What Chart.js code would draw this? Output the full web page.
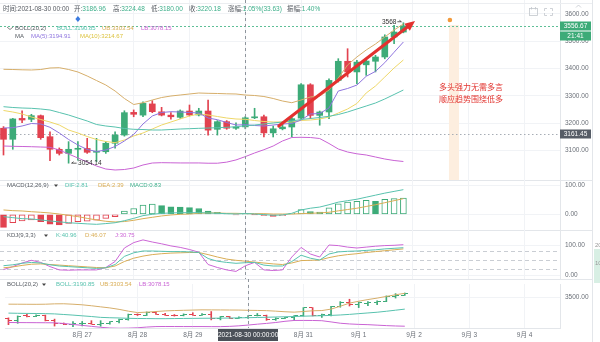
<!DOCTYPE html>
<html>
<head>
<meta charset="utf-8">
<title>BTC 4H</title>
<script src="https://cdn.jsdelivr.net/npm/chart.js@4.4.1/dist/chart.umd.min.js"></script>
<style>
  html, body { margin: 0; padding: 0; background: #fff; }
  #wrap { position: relative; width: 600px; height: 342px; overflow: hidden; }
  canvas { position: absolute; left: 0; }
</style>
</head>
<body>
<div id="wrap">
  <canvas id="mainChart" width="600" height="180" style="top:0"></canvas>
  <canvas id="macdChart" width="600" height="50" style="top:180px"></canvas>
  <canvas id="kdjChart" width="600" height="49" style="top:230px"></canvas>
  <canvas id="bollChart" width="600" height="63" style="top:279px"></canvas>
</div>
<script>
  // 4h candles, index 0 = 8/25 16:00, index 26 = 8/30 00:00
  const dayTicks = [8, 14, 20, 26, 32, 38, 44, 50, 56];
  const dayLabels = ['8月 27', '8月 28', '8月 29', '8月 30', '8月 31', '9月 1', '9月 2', '9月 3', '9月 4'];
  const priceTicks = [3100, 3200, 3300, 3400, 3500, 3600];
  const macdTicks = [0, 100];
  const kdjTicks = [0, 100];
  const kdjLevels = [20, 50, 80];
  const bollTicks = [3500];

  const open = [3182, 3141.5, 3218, 3214.7, 3228, 3151, 3105, 3090, 3105, 3108, 3094, 3096, 3127, 3157, 3240, 3230, 3271, 3242, 3230, 3222, 3245, 3230.5, 3245, 3178, 3206, 3182, 3186.96, 3220.18, 3224, 3165, 3180, 3186.5, 3219, 3341, 3229, 3241.5, 3357, 3427, 3388, 3414, 3427, 3442.7, 3516, 3534];
  const high = [3188, 3218, 3246, 3233, 3230.5, 3169, 3110, 3133, 3133, 3145, 3145, 3133, 3169, 3246, 3249, 3279, 3283, 3258.6, 3239, 3249, 3267, 3255, 3285, 3210, 3210, 3202, 3224.48, 3255, 3230.5, 3190, 3198, 3223, 3345, 3345, 3245, 3363, 3436.5, 3473, 3430.6, 3436, 3449, 3524, 3558.6, 3568];
  const low = [3084, 3105, 3202, 3206, 3141.5, 3063, 3084, 3054.14, 3065, 3090, 3060, 3090, 3109, 3153, 3224, 3224, 3239, 3227, 3215, 3218, 3227, 3227, 3157, 3157, 3178, 3178, 3180, 3217, 3150, 3150, 3176, 3150, 3215, 3217, 3193, 3217, 3351, 3369.5, 3345, 3375.5, 3388, 3436, 3491, 3531];
  const close = [3141.5, 3216, 3212, 3228, 3147.4, 3105, 3090, 3105, 3108.6, 3094, 3097, 3127, 3157.3, 3239, 3233, 3273, 3242.5, 3230, 3224, 3245, 3230.5, 3245, 3175, 3206, 3182, 3186.55, 3220.18, 3223, 3165, 3180, 3186.5, 3217, 3341, 3229, 3241.5, 3357, 3427, 3388, 3424, 3428, 3442.7, 3516, 3534, 3556.67];

  const ub = [3397.6, 3396.9, 3395.8, 3395.1, 3396.9, 3402.4, 3403.5, 3396.9, 3387.8, 3373.1, 3356.6, 3340.2, 3318.2, 3290.8, 3268.8, 3275.4, 3285.3, 3294.4, 3299.9, 3303.6, 3307.3, 3310.9, 3309.8, 3309.1, 3308, 3307.3, 3303.54, 3301.8, 3298.1, 3290.8, 3281.6, 3275.4, 3285.3, 3296.3, 3299.9, 3321.9, 3365.8, 3413.4, 3442.6, 3468.2, 3490.2, 3515.8, 3541.4, 3563.4];
  const mid = [3260.8, 3257.9, 3256, 3254.9, 3252.4, 3248.7, 3239.6, 3230.4, 3219.4, 3208.5, 3195.7, 3190.2, 3186.5, 3181, 3178.1, 3177.3, 3175.5, 3175.5, 3177.3, 3179.2, 3180.3, 3181.7, 3182.8, 3183.9, 3185.4, 3187.6, 3190.85, 3193.8, 3197.5, 3201.2, 3204.8, 3208.5, 3213.9, 3217.6, 3221.3, 3225.7, 3232.2, 3241.4, 3252.4, 3263.3, 3274.3, 3289, 3305.4, 3321.9];
  const lb = [3117, 3115.9, 3115.2, 3114.4, 3113.3, 3112.2, 3102.3, 3087.7, 3073.1, 3058.4, 3043.8, 3032.8, 3029.2, 3031, 3036.5, 3047.5, 3054.8, 3056, 3055.5, 3055, 3055, 3055, 3054, 3054, 3058, 3066, 3078.15, 3091.4, 3103.4, 3117, 3135.3, 3148.1, 3148.8, 3148.1, 3144.4, 3126.1, 3106, 3095, 3088.4, 3084.1, 3076.7, 3069.4, 3063.9, 3060.3];
  const ma5 = [3182.8, 3183.9, 3190.2, 3199.3, 3197.5, 3185.4, 3164.6, 3140.8, 3120.6, 3104.2, 3096.9, 3102.3, 3115.2, 3135.3, 3159.1, 3197.5, 3226.8, 3239.6, 3242.5, 3241.4, 3239.6, 3237.7, 3219.4, 3213.2, 3203, 3193.8, 3194.91, 3192, 3190.2, 3193.8, 3197.5, 3199.3, 3212.1, 3234.1, 3235.9, 3256, 3318.2, 3327.4, 3340, 3372, 3390, 3422, 3460, 3497.5];
  const ma10 = [3246.9, 3241.4, 3234.1, 3223.1, 3214, 3204.8, 3193.8, 3175.5, 3164.6, 3151.7, 3140.8, 3133.5, 3129.1, 3138.9, 3153.6, 3164.6, 3179.2, 3193.8, 3204.8, 3215.8, 3226.8, 3234.1, 3230.4, 3224.9, 3219.4, 3215.8, 3214.67, 3210.3, 3206.6, 3204.8, 3204.8, 3204.8, 3210.3, 3212.1, 3215.8, 3223.1, 3237.7, 3252.4, 3272.5, 3310.9, 3336.5, 3369.5, 3402.4, 3431.7];

  const dif = [-8, -11.5, -15, -16, -19.5, -23, -26, -29, -31, -33, -34.5, -32, -29, -22, -14, -4.6, 0, 3.4, 4.6, 5.7, 5.7, 5.7, 4.6, 3.4, 2.3, 1, 2.81, 1, -1, -3.4, -2.3, 3.4, 15, 21, 25, 33, 42, 47, 52, 59, 66, 73, 79, 85];
  const dea = [15, 12.6, 11.5, 9, 7, 4.6, 1, -3.4, -8, -14, -19.5, -24, -26.4, -25, -20.7, -15, -10.3, -5.7, -2.3, 0, 1, 3.4, 4.6, 4.6, 3.4, 3.4, 2.39, 2.3, 2.3, 1, 1, 1, 2.4, 3.5, 4.7, 7, 12, 16.5, 21, 27, 33, 40, 47, 54];
  const macd = [-45, -29, -23, -19.6, -25, -34, -37, -31, -25, -24, -20, -14, -8, 11, 20, 32, 35, 30, 26, 25, 23, 20, 11, 7, 1, -2, 0.83, -1, -4, -7, -5, 3, 16.5, 9.4, 8, 22, 36, 42, 45, 48, 45, 52, 54, 56];

  const kdjK = [31, 34, 39, 42, 40, 34, 30, 28, 26, 24, 22, 24, 35, 62, 74, 80, 80, 79, 78, 78, 77, 75, 55, 46, 42, 39, 40.96, 42, 33, 30, 30, 45, 66, 56, 50, 70, 77, 79, 80, 82, 84, 87, 89, 91];
  const kdjD = [24, 27, 32, 36, 37, 35, 33, 31, 29, 27, 25, 24, 30, 45, 56, 63, 68, 71, 73, 74, 75, 75, 68, 60, 53, 49, 46.07, 43, 40, 37, 35, 40, 48, 49, 50, 58, 64, 68, 71, 75, 78, 81, 84, 87];
  const kdjJ = [18, 28, 40, 49, 42, 28, 17, 16, 17, 17, 17, 25, 45, 90, 108, 117, 110, 104, 97, 92, 85, 76, 35, 25, 17, 12, 30.75, 42, 17, 15, 17, 60, 92, 70, 60, 100, 98, 93, 90, 93, 96, 98, 99, 101];

  const cursor = 26;
  const cursorTime = '2021-08-30 00:00';
  const refLevel = 3161.45;
  const trendArrow = [[29.6, 3190], [44.25, 3574]];
  const noteLines = ['多头强力无需多言', '顺应趋势围绕低多'];

  const FF = '"Liberation Sans", Arial, "Noto Sans CJK SC", sans-serif';
  const X_MIN = -0.376, X_MAX = 59.84;
  const GRID = '#f1f3f6', LINE = '#e3e6ea', TXT = '#555a61', AXIS_TXT = '#6b7078';
  const UP = '#3dab78', DOWN = '#e2424f';
  const C_UB = '#d6ae6a', C_MID = '#58c2ae', C_LB = '#c963d4', C_MA5 = '#8e74de', C_MA10 = '#eed768';
  const C_VAL = '#3daf8a', C_GOLD = '#d9ad55';

  const pts = arr => arr.map((v, i) => ({ x: i, y: v }));
  const isUp = i => close[i] >= open[i];
  const trunc2 = v => (Math.floor(v * 100) / 100).toFixed(2);

  function txt(ctx, s, x, y, color, size, align) {
    ctx.fillStyle = color;
    ctx.font = (size || 6.5) + 'px ' + FF;
    ctx.textAlign = align || 'left';
    ctx.textBaseline = 'middle';
    ctx.fillText(s, x, y);
  }
  // label in grey followed by its value in colour
  function pair(ctx, lab, val, color, x, y) {
    txt(ctx, lab, x, y, TXT);
    const w = ctx.measureText(lab).width;
    txt(ctx, val, x + w, y, color);
  }
  function caret(ctx, x, y) {
    ctx.fillStyle = '#444';
    ctx.beginPath();
    ctx.moveTo(x - 2, y - 1); ctx.lineTo(x + 2, y - 1); ctx.lineTo(x, y + 1.5);
    ctx.closePath(); ctx.fill();
  }
  function hline(ctx, y, x1, x2, color, dash) {
    ctx.save();
    ctx.strokeStyle = color; ctx.lineWidth = 1; ctx.setLineDash(dash || []);
    ctx.beginPath(); ctx.moveTo(x1, y); ctx.lineTo(x2, y); ctx.stroke();
    ctx.restore();
  }

  function xAxis(withLabels) {
    return {
      type: 'linear', min: X_MIN, max: X_MAX, offset: false,
      afterBuildTicks: s => { s.ticks = dayTicks.map(v => ({ value: v })); },
      afterFit: s => { s.height = withLabels ? 14 : 0; s.paddingLeft = 0; s.paddingRight = 0; },
      grid: { color: GRID, drawTicks: false, offset: false },
      border: { display: withLabels, color: LINE },
      ticks: {
        display: withLabels, autoSkip: false, maxRotation: 0, padding: 3,
        color: AXIS_TXT, font: { size: 6.5, family: FF },
        callback: v => dayLabels[dayTicks.indexOf(v)]
      }
    };
  }
  function yAxis(min, max, ticks) {
    return {
      position: 'right', min: min, max: max,
      afterBuildTicks: s => { s.ticks = ticks.map(v => ({ value: v })); },
      afterFit: s => { s.width = 40; s.paddingTop = 0; s.paddingBottom = 0; },
      grid: { color: GRID, drawTicks: false },
      border: { color: LINE },
      ticks: { padding: 5, color: AXIS_TXT, font: { size: 6.5, family: FF }, callback: v => v.toFixed(2) }
    };
  }
  function baseOptions(yCfg, withLabels) {
    return {
      responsive: false, animation: false, devicePixelRatio: 1, events: [],
      layout: { padding: 0 },
      plugins: { legend: { display: false }, tooltip: { enabled: false } },
      scales: { x: xAxis(withLabels), y: yCfg }
    };
  }
  function lineSet(arr, color) {
    return { type: 'line', data: pts(arr), borderColor: color, borderWidth: 1, pointRadius: 0, fill: false, order: 0 };
  }

  // separators, right strip and the crosshair shared by every pane
  function chrome(topLine) {
    return {
      id: 'chrome',
      beforeDraw(chart) {
        const ctx = chart.ctx;
        if (topLine) hline(ctx, 0.5, 0, 592, LINE);
        ctx.save();
        ctx.strokeStyle = LINE;
        ctx.beginPath(); ctx.moveTo(592.5, 0); ctx.lineTo(592.5, chart.height); ctx.stroke();
        ctx.restore();
      },
      afterDatasetsDraw(chart) {
        const ctx = chart.ctx, a = chart.chartArea;
        const x = Math.round(chart.scales.x.getPixelForValue(cursor)) + 0.5;
        ctx.save();
        ctx.strokeStyle = '#8f959c'; ctx.lineWidth = 1; ctx.setLineDash([3, 3]);
        ctx.beginPath(); ctx.moveTo(x, 0); ctx.lineTo(x, a.bottom); ctx.stroke();
        ctx.restore();
      }
    };
  }

  // ---------- main pane ----------
  const mainOverlay = {
    id: 'mainOverlay',
    beforeDatasetsDraw(chart) {
      const ctx = chart.ctx, xs = chart.scales.x, ys = chart.scales.y, a = chart.chartArea;
      // highlighted slot ahead of the last candle
      const bx = xs.getPixelForValue(47.9);
      const bw = xs.getPixelForValue(48.98) - bx;
      const by = ys.getPixelForValue(3560);
      ctx.fillStyle = '#fdeedf';
      ctx.fillRect(bx, by, bw, a.bottom - by);
      hline(ctx, Math.round(ys.getPixelForValue(close[close.length - 1])) + 0.5, 0, a.right, '#5fbf97', [2, 2]);
      hline(ctx, Math.round(ys.getPixelForValue(refLevel)) + 0.5, 0, a.right, '#a7adb5', [1.5, 2.5]);
    },
    afterDatasetsDraw(chart) {
      const ctx = chart.ctx, xs = chart.scales.x, ys = chart.scales.y;
      // trend arrow
      const x1 = xs.getPixelForValue(trendArrow[0][0]), y1 = ys.getPixelForValue(trendArrow[0][1]);
      const x2 = xs.getPixelForValue(trendArrow[1][0]), y2 = ys.getPixelForValue(trendArrow[1][1]);
      const ang = Math.atan2(y2 - y1, x2 - x1);
      const hl = 10, hw = 4.5;
      const bxp = x2 - hl * Math.cos(ang), byp = y2 - hl * Math.sin(ang);
      ctx.save();
      ctx.strokeStyle = '#e3312f'; ctx.fillStyle = '#e3312f'; ctx.lineWidth = 3; ctx.lineCap = 'round';
      ctx.beginPath(); ctx.moveTo(x1, y1); ctx.lineTo(bxp, byp); ctx.stroke();
      ctx.beginPath();
      ctx.moveTo(x2, y2);
      ctx.lineTo(bxp + hw * Math.sin(ang), byp - hw * Math.cos(ang));
      ctx.lineTo(bxp - hw * Math.sin(ang), byp + hw * Math.cos(ang));
      ctx.closePath(); ctx.fill();
      ctx.restore();

      // extreme labels
      const last = high.length - 1;
      const hx = xs.getPixelForValue(last), hy = ys.getPixelForValue(high[last]);
      txt(ctx, String(high[last]), hx - 7, hy - 1, '#333', 6.5, 'right');
      ctx.save(); ctx.strokeStyle = '#333'; ctx.lineWidth = 0.8;
      ctx.beginPath(); ctx.moveTo(hx - 6, hy - 1); ctx.lineTo(hx - 2, hy - 1); ctx.lineTo(hx - 4, hy - 2.5); ctx.stroke();
      ctx.restore();
      const li = low.indexOf(Math.min(...low));
      const lx = xs.getPixelForValue(li), ly = ys.getPixelForValue(low[li]);
      ctx.save(); ctx.strokeStyle = '#333'; ctx.lineWidth = 0.8;
      ctx.beginPath(); ctx.moveTo(lx + 8, ly); ctx.lineTo(lx + 3, ly); ctx.lineTo(lx + 5, ly - 1.5); ctx.stroke();
      ctx.restore();
      txt(ctx, low[li].toFixed(2), lx + 9.5, ly, '#333', 6.5);

      // markers on top row
      const dx = xs.getPixelForValue(8), dy = ys.getPixelForValue(3581.7);
      ctx.fillStyle = '#3b7be0';
      ctx.beginPath(); ctx.moveTo(dx, dy - 3); ctx.lineTo(dx + 2.5, dy); ctx.lineTo(dx, dy + 3); ctx.lineTo(dx - 2.5, dy); ctx.closePath(); ctx.fill();
      ctx.fillStyle = '#f29a3c';
      ctx.beginPath(); ctx.arc(xs.getPixelForValue(48.0), ys.getPixelForValue(3578), 2.3, 0, Math.PI * 2); ctx.fill();

      // note
      txt(ctx, noteLines[0], 471, 88, '#e2342f', 8, 'center');
      txt(ctx, noteLines[1], 471, 99.5, '#e2342f', 8, 'center');

      // legend rows
      const c = cursor, prev = close[c - 1];
      txt(ctx, '时间:' + cursorTime, 3, 9.5, TXT);
      pair(ctx, '开:', open[c].toFixed(2), C_VAL, 74, 9.5);
      pair(ctx, '高:', high[c].toFixed(2), C_VAL, 113, 9.5);
      pair(ctx, '低:', low[c].toFixed(2), C_VAL, 151, 9.5);
      pair(ctx, '收:', close[c].toFixed(2), C_VAL, 189, 9.5);
      const chg = close[c] - prev;
      pair(ctx, '涨幅:', trunc2(chg / prev * 100) + '%(' + chg.toFixed(2) + ')', C_VAL, 228, 9.5);
      pair(ctx, '振幅:', ((high[c] - low[c]) / prev * 100).toFixed(2) + '%', C_VAL, 287, 9.5);

      ctx.save(); ctx.strokeStyle = '#666'; ctx.lineWidth = 0.8;
      ctx.beginPath(); ctx.moveTo(7, 27); ctx.lineTo(10, 29.5); ctx.lineTo(13, 27); ctx.stroke();
      ctx.restore();
      txt(ctx, 'BOLL(20,2)', 15, 28, TXT, 6);
      txt(ctx, 'BOLL:' + mid[c].toFixed(2), 57, 28, C_MID, 6);
      txt(ctx, 'UB:' + ub[c].toFixed(2), 102, 28, C_GOLD, 6);
      txt(ctx, 'LB:' + lb[c].toFixed(2), 141, 28, C_LB, 6);
      txt(ctx, 'MA', 15, 36.5, TXT, 6);
      txt(ctx, 'MA(5):' + ma5[c].toFixed(2), 31, 36.5, C_MA5, 6);
      txt(ctx, 'MA(10):' + ma10[c].toFixed(2), 80, 36.5, '#dcc23e', 6);
    },
    afterDraw(chart) {
      const ctx = chart.ctx, ys = chart.scales.y;
      const lastY = ys.getPixelForValue(close[close.length - 1]);
      ctx.fillStyle = UP;
      ctx.fillRect(560, Math.round(lastY) - 4.5, 31, 9);
      ctx.fillRect(560, Math.round(lastY) + 5.5, 31, 9);
      txt(ctx, close[close.length - 1].toFixed(2), 575.5, Math.round(lastY), '#fff', 6.5, 'center');
      txt(ctx, '21:41', 575.5, Math.round(lastY) + 10, '#fff', 6.5, 'center');
      const ry = Math.round(ys.getPixelForValue(refLevel));
      ctx.fillStyle = '#565c66';
      ctx.fillRect(560, ry - 4.5, 31, 9);
      txt(ctx, refLevel.toFixed(2), 575.5, ry, '#fff', 6.5, 'center');
      // toolbar glyphs
      ctx.save();
      ctx.strokeStyle = '#c3c7cd'; ctx.lineWidth = 0.8;
      ctx.strokeRect(529.5, 8.5, 8, 7);
      ctx.beginPath(); ctx.moveTo(531.5, 7); ctx.lineTo(531.5, 9.5); ctx.moveTo(535.5, 7); ctx.lineTo(535.5, 9.5); ctx.stroke();
      ctx.beginPath();
      ctx.moveTo(544.5, 11); ctx.lineTo(544.5, 8.5); ctx.lineTo(547, 8.5);
      ctx.moveTo(550, 8.5); ctx.lineTo(552.5, 8.5); ctx.lineTo(552.5, 11);
      ctx.moveTo(552.5, 13); ctx.lineTo(552.5, 15.5); ctx.lineTo(550, 15.5);
      ctx.moveTo(547, 15.5); ctx.lineTo(544.5, 15.5); ctx.lineTo(544.5, 13);
      ctx.moveTo(576, 7.5); ctx.lineTo(578.5, 5); ctx.lineTo(581, 7.5);
      ctx.stroke();
      ctx.restore();
      hline(ctx, 3.5, 0, 592, '#eceef1');
    }
  };

  new Chart(document.getElementById('mainChart'), {
    type: 'bar',
    data: {
      datasets: [
        lineSet(ub, C_UB), lineSet(mid, C_MID), lineSet(lb, C_LB), lineSet(ma5, C_MA5), lineSet(ma10, C_MA10),
        {
          type: 'bar', data: open.map((o, i) => ({ x: i, y: [o, close[i]] })),
          backgroundColor: c => isUp(c.dataIndex) ? UP : DOWN,
          barThickness: 6, minBarLength: 1, grouped: false, borderWidth: 0, order: 1
        },
        {
          type: 'bar', data: low.map((l, i) => ({ x: i, y: [l, high[i]] })),
          backgroundColor: c => isUp(c.dataIndex) ? UP : DOWN,
          barThickness: 1, grouped: false, borderWidth: 0, order: 2
        }
      ]
    },
    options: baseOptions(yAxis(2992.6, 3651.2, priceTicks), false),
    plugins: [chrome(false), mainOverlay]
  });

  // ---------- MACD pane ----------
  const macdColor = i => macd[i] >= 0 ? UP : DOWN;
  const macdHollow = i => i > 0 && macd[i] > macd[i - 1];
  new Chart(document.getElementById('macdChart'), {
    type: 'bar',
    data: {
      datasets: [
        lineSet(dif, C_MID), lineSet(dea, C_GOLD),
        {
          type: 'bar', data: pts(macd), grouped: false, order: 1,
          barThickness: 6, borderWidth: 1, borderSkipped: false,
          borderColor: c => macdColor(c.dataIndex),
          backgroundColor: c => macdHollow(c.dataIndex) ? '#ffffff' : macdColor(c.dataIndex)
        }
      ]
    },
    options: baseOptions(yAxis(-54.1, 118.3, macdTicks), false),
    plugins: [chrome(true), {
      id: 'macdLegend',
      afterDraw(chart) {
        const ctx = chart.ctx;
        txt(ctx, 'MACD(12,26,9)', 7, 5.5, TXT, 6);
        caret(ctx, 56, 5.5);
        txt(ctx, 'DIF:' + dif[cursor].toFixed(2), 65, 5.5, C_MID, 6);
        txt(ctx, 'DEA:' + dea[cursor].toFixed(2), 98, 5.5, C_GOLD, 6);
        txt(ctx, 'MACD:' + macd[cursor].toFixed(2), 130, 5.5, C_VAL, 6);
      }
    }]
  });

  // ---------- KDJ pane ----------
  new Chart(document.getElementById('kdjChart'), {
    type: 'line',
    data: { datasets: [lineSet(kdjK, C_MID), lineSet(kdjD, C_GOLD), lineSet(kdjJ, '#cc66d6')] },
    options: baseOptions(yAxis(-13.3, 150, kdjTicks), false),
    plugins: [chrome(true), {
      id: 'kdjExtras',
      beforeDatasetsDraw(chart) {
        const ctx = chart.ctx, ys = chart.scales.y, a = chart.chartArea;
        kdjLevels.forEach(v => hline(ctx, Math.round(ys.getPixelForValue(v)) + 0.5, 0, a.right, '#c9cdd3', [4, 3]));
      },
      afterDraw(chart) {
        const ctx = chart.ctx;
        txt(ctx, 'KDJ(9,3,3)', 7, 5.5, TXT, 6);
        caret(ctx, 46, 5.5);
        txt(ctx, 'K:' + kdjK[cursor].toFixed(2), 56, 5.5, C_MID, 6);
        txt(ctx, 'D:' + kdjD[cursor].toFixed(2), 85, 5.5, C_GOLD, 6);
        txt(ctx, 'J:' + kdjJ[cursor].toFixed(2), 115, 5.5, '#cc66d6', 6);
        ctx.fillStyle = '#d8efe4';
        ctx.fillRect(594, 19, 6, 30);
        txt(ctx, '20', 595, 15, '#999', 6);
        txt(ctx, '10', 595, 33, '#999', 6);
      }
    }]
  });

  // ---------- BOLL pane with OHLC bars ----------
  function tickMark(color, side) {
    const c = document.createElement('canvas');
    c.width = 7; c.height = 1;
    const g = c.getContext('2d');
    g.fillStyle = color;
    g.fillRect(side === 'open' ? 0 : 4, 0, 3, 1);
    return c;
  }
  const openUp = tickMark(UP, 'open'), openDown = tickMark(DOWN, 'open');
  const closeUp = tickMark(UP, 'close'), closeDown = tickMark(DOWN, 'close');

  new Chart(document.getElementById('bollChart'), {
    type: 'bar',
    data: {
      datasets: [
        lineSet(ub, C_UB), lineSet(mid, C_MID), lineSet(lb, C_LB),
        {
          type: 'line', data: pts(open), showLine: false, pointRadius: 2, order: 1,
          pointStyle: c => isUp(c.dataIndex) ? openUp : openDown
        },
        {
          type: 'line', data: pts(close), showLine: false, pointRadius: 2, order: 1,
          pointStyle: c => isUp(c.dataIndex) ? closeUp : closeDown
        },
        {
          type: 'bar', data: low.map((l, i) => ({ x: i, y: [l, high[i]] })),
          backgroundColor: c => isUp(c.dataIndex) ? UP : DOWN,
          barThickness: 1, minBarLength: 1, grouped: false, borderWidth: 0, order: 2
        }
      ]
    },
    options: baseOptions(yAxis(3033, 3706, bollTicks), true),
    plugins: [chrome(true), {
      id: 'bollLegend',
      afterDraw(chart) {
        const ctx = chart.ctx, xs = chart.scales.x, a = chart.chartArea;
        txt(ctx, 'BOLL(20,2)', 7, 5.5, TXT, 6);
        caret(ctx, 44, 5.5);
        txt(ctx, 'BOLL:' + mid[cursor].toFixed(2), 56, 5.5, C_MID, 6);
        txt(ctx, 'UB:' + ub[cursor].toFixed(2), 100, 5.5, C_GOLD, 6);
        txt(ctx, 'LB:' + lb[cursor].toFixed(2), 139, 5.5, C_LB, 6);
        ctx.fillStyle = '#d8efe4';
        ctx.fillRect(594, 0, 6, 4);
        // crosshair time tag on the axis
        const cx = xs.getPixelForValue(cursor);
        ctx.fillStyle = '#4c5159';
        ctx.fillRect(Math.round(cx - 30), a.bottom + 1, 60, 12);
        txt(ctx, cursorTime + ':00', cx, a.bottom + 7, '#fff', 6.5, 'center');
      }
    }]
  });
</script>
</body>
</html>
